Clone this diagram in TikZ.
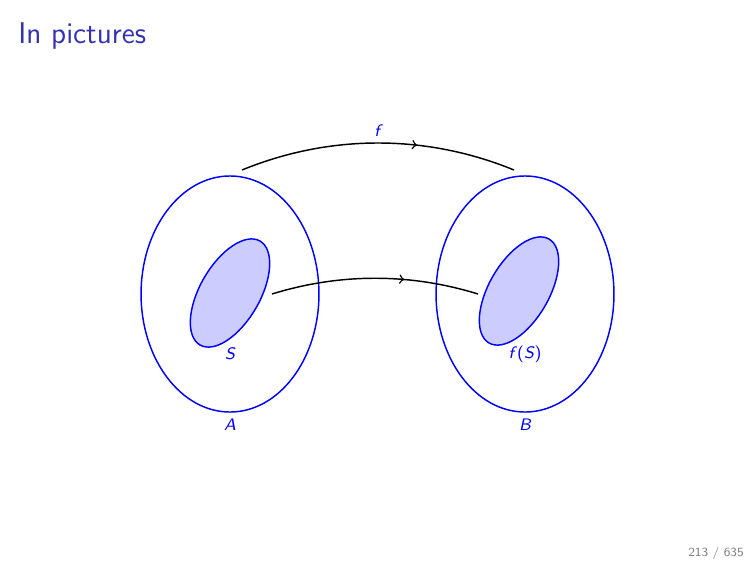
\documentclass[tikz,border=0pt]{standalone}
\usetikzlibrary{shapes.geometric,decorations.markings}
\definecolor{structure}{rgb}{0.2,0.2,0.7}
\begin{document}
\begin{tikzpicture}[x=0.48pt,y=-0.48pt,
  bigset/.style={ellipse,draw=blue,line width=0.7pt,inner sep=0pt,minimum width=85.4pt,minimum height=113.3pt},
  subset/.style={ellipse,draw=blue,fill=blue!20,line width=0.7pt,inner sep=0pt,minimum width=57.6pt,minimum height=28.8pt,rotate=60},
  lbl/.style={text=blue,font=\footnotesize\sffamily\itshape,inner sep=0pt},
  maparrow/.style={line width=0.7pt,postaction={decorate},decoration={markings,mark=at position 0.64 with {\arrow{>}}}}]
\useasboundingbox (0,0) rectangle (756,567);
\node[anchor=base west,text=structure,font=\Large\sffamily,inner sep=0pt] (title) at (18,44) {In pictures};
\node[bigset] (A) at (230,294) {};
\node[bigset] (B) at (525,294) {};
\node[subset] (S) at (230,293) {};
\node[subset] (fS) at (519,291) {};
\node[lbl] (lA) at (230,425) {A};
\node[lbl] (lB) at (525,425) {B};
\node[lbl] (lS) at (230,354) {S};
\node[lbl] (lfS) at (525,354) {f\textup{(}S\textup{)}};
\node[lbl] (lf) at (377,131) {f};
\coordinate (a1) at (242,170);
\coordinate (b1) at (514,170);
\coordinate (s1) at (272,294);
\coordinate (t1) at (478,294);
\draw[maparrow] (a1) .. controls (330,134) and (426,134) .. (b1);
\draw[maparrow] (s1) .. controls (340,273) and (410,273) .. (t1);
\node[text=gray,font=\fontsize{6}{7}\selectfont\sffamily,inner sep=0pt] (page) at (716,553) {213 / 635};
\end{tikzpicture}
\end{document}
